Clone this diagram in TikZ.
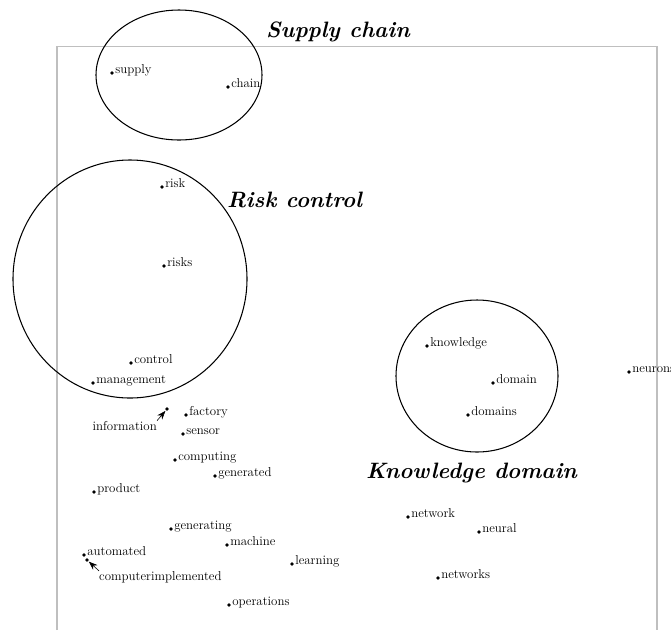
\documentclass[tikz,border=0pt]{standalone}
\usetikzlibrary{arrows.meta}
\newcommand{\Term}[3]{%
  \node[dot]  (#1)   at (#2) {};
  \node[word] (#1-w) at ([xshift=0.8pt]#1.east) {#3};}

\begin{document}
\begin{tikzpicture}[x=0.03cm, y=-0.03cm,
  dot/.style={circle, fill, inner sep=0pt, minimum size=3.2pt},
  word/.style={anchor=base west, inner sep=0pt, font=\fontsize{11}{13}\selectfont},
  topic/.style={anchor=base west, inner sep=0pt, font=\fontsize{19}{22}\selectfont\bfseries\itshape},
  group/.style={draw, line width=0.9pt},
  frame/.style={draw=black!25, line width=1.3pt},
  pointer/.style={-{Stealth[length=7.5pt,width=5.5pt]}, line width=0.5pt, shorten >=0.3pt}]
\useasboundingbox (0,0) rectangle (671,630);

\draw[frame] (57,630) -- (57,46.7) -- (657,46.7) -- (657,630);

% Groups
\draw[group] (179,75)  ellipse [x radius=83,  y radius=65];
\draw[group] (130,279) ellipse [x radius=117, y radius=119];
\draw[group] (477,376) ellipse [x radius=81,  y radius=76];

\node[topic] (t-supply)    at (266,37)  {Supply chain};
\node[topic] (t-risk)      at (227,207) {Risk control};
\node[topic] (t-knowledge) at (366,478) {Knowledge domain};

% Terms
\Term{supply}{112,73}{supply}
\Term{chain}{228,87}{chain}
\Term{risk}{162,187}{risk}
\Term{risks}{164,266}{risks}
\Term{control}{131,363}{control}
\Term{management}{93,383}{management}
\Term{factory}{186,415}{factory}
\Term{sensor}{183,434}{sensor}
\Term{computing}{175,460}{computing}
\Term{generated}{215,476}{generated}
\Term{product}{94,492}{product}
\Term{generating}{171,529}{generating}
\Term{machine}{227,545}{machine}
\Term{learning}{292,564}{learning}
\Term{automated}{84,555}{automated}
\Term{operations}{229,605}{operations}
\Term{knowledge}{427,346}{knowledge}
\Term{domain}{493,383}{domain}
\Term{domains}{468,415}{domains}
\Term{neurons}{629,372}{neurons}
\Term{network}{408,517}{network}
\Term{neural}{479,532}{neural}
\Term{networks}{438,578}{networks}

\node[dot] (information) at (167,409) {};
\node[word, anchor=base east] (information-w) at (157,430) {information};
\node[dot] (cimpl) at (87,560) {};
\node[word] (cimpl-w) at (99,580) {computerimplemented};

\draw[pointer] (information-w.north east) -- (information);
\draw[pointer] (cimpl-w.north west) -- (cimpl);

\end{tikzpicture}
\end{document}
